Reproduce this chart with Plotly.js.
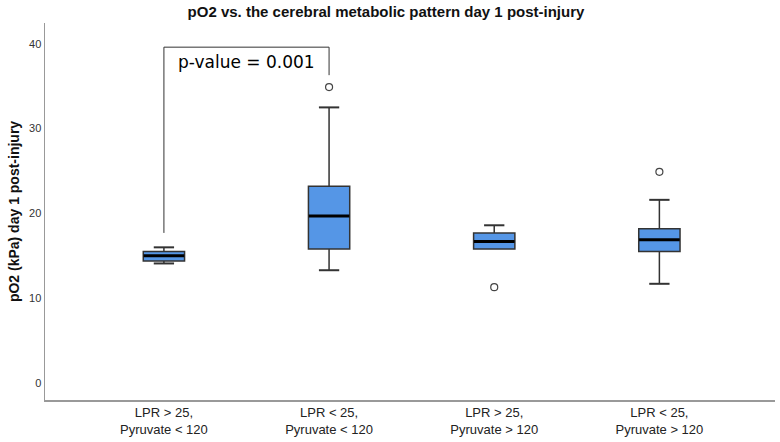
<!DOCTYPE html>
<html>
<head>
<meta charset="utf-8">
<script src="https://cdn.plot.ly/plotly-3.0.1.min.js"></script>
<style>html,body{margin:0;padding:0;background:#fff;}#chart{width:780px;height:442px;}</style>
</head>
<body>
<div id="chart"></div>
<script>
// Data
const categories = [0, 1, 2, 3];
const tickLabels = ["LPR > 25,<br>Pyruvate < 120", "LPR < 25,<br>Pyruvate < 120", "LPR > 25,<br>Pyruvate > 120", "LPR < 25,<br>Pyruvate > 120"];
const lowerWhisker = [14.1, 13.3, 15.8, 11.7];
const q1 = [14.4, 15.8, 15.8, 15.5];
const medians = [15.0, 19.7, 16.7, 16.9];
const q3 = [15.5, 23.2, 17.7, 18.2];
const upperWhisker = [16.0, 32.5, 18.6, 21.6];
const outlierX = [1, 2, 3];
const outlierY = [34.9, 11.3, 24.9];
const bracketLeft = 0, bracketRight = 1;
const bracketTop = 39.6, bracketLeftEnd = 17.7, bracketRightEnd = 36.3;
const pText = "p-value = 0.001";

const boxColor = "#5596E6";
const traces = [
  {
    type: "box",
    x: categories,
    q1: q1, median: medians, q3: q3,
    lowerfence: lowerWhisker, upperfence: upperWhisker,
    width: 0.25,
    fillcolor: boxColor,
    line: {color: "#333333", width: 1.5},
    whiskerwidth: 0,
    hoverinfo: "skip",
    showlegend: false
  },
  {
    type: "scatter", mode: "markers",
    x: categories.concat(categories.filter((c, i) => lowerWhisker[i] < q1[i])),
    y: upperWhisker.concat(lowerWhisker.filter((v, i) => v < q1[i])),
    marker: {symbol: "line-ew", size: 14.5, line: {color: "#333333", width: 2}},
    hoverinfo: "skip", showlegend: false
  },
  {
    type: "scatter", mode: "markers",
    x: categories, y: medians,
    marker: {symbol: "line-ew", size: 29, line: {color: "#000000", width: 3}},
    hoverinfo: "skip", showlegend: false
  },
  {
    type: "scatter", mode: "markers",
    x: outlierX, y: outlierY,
    marker: {symbol: "circle-open", size: 7, color: "#444444", line: {width: 1.2}},
    hoverinfo: "skip", showlegend: false
  }
];

const layout = {
  width: 780, height: 442,
  margin: {l: 45, r: 5, t: 23, b: 42},
  paper_bgcolor: "#ffffff", plot_bgcolor: "#ffffff",
  showlegend: false,
  title: {
    text: "<b>pO2 vs. the cerebral metabolic pattern day 1 post-injury</b>",
    font: {family: "Liberation Sans, Arial, sans-serif", size: 15, color: "#111111"},
    x: 386 / 780, xanchor: "center", xref: "container",
    y: 1 - 12 / 442, yref: "container", yanchor: "middle"
  },
  xaxis: {
    range: [-0.72, 3.70],
    tickvals: categories, ticktext: tickLabels,
    showgrid: false, zeroline: false,
    showline: true, linecolor: "#999999", linewidth: 1.5,
    ticks: "",
    tickfont: {family: "Liberation Sans, Arial, sans-serif", size: 13, color: "#222222"},
    fixedrange: true
  },
  yaxis: {
    range: [-2, 42.45],
    tickvals: [0, 10, 20, 30, 40],
    showgrid: false, zeroline: false,
    showline: true, linecolor: "#999999", linewidth: 1.5,
    ticks: "",
    tickfont: {family: "Liberation Sans, Arial, sans-serif", size: 11, color: "#333333"},
    title: {
      text: "<b>pO2 (kPa) day 1 post-injury</b>",
      font: {family: "Liberation Sans, Arial, sans-serif", size: 14, color: "#111111"},
      standoff: 6
    },
    fixedrange: true
  },
  shapes: [
    {type: "line", xref: "x", yref: "y", x0: bracketLeft, x1: bracketLeft, y0: bracketLeftEnd, y1: bracketTop, line: {color: "#333333", width: 1}},
    {type: "line", xref: "x", yref: "y", x0: bracketLeft, x1: bracketRight, y0: bracketTop, y1: bracketTop, line: {color: "#333333", width: 1}},
    {type: "line", xref: "x", yref: "y", x0: bracketRight, x1: bracketRight, y0: bracketRightEnd, y1: bracketTop, line: {color: "#333333", width: 1}}
  ],
  annotations: [
    {
      x: (bracketLeft + bracketRight) / 2, y: 37.85, xref: "x", yref: "y",
      text: pText, showarrow: false,
      xanchor: "center", yanchor: "middle",
      font: {family: "DejaVu Sans, Verdana, sans-serif", size: 17, color: "#000000"}
    }
  ]
};

Plotly.newPlot("chart", traces, layout, {displayModeBar: false, staticPlot: true});
</script>
</body>
</html>
